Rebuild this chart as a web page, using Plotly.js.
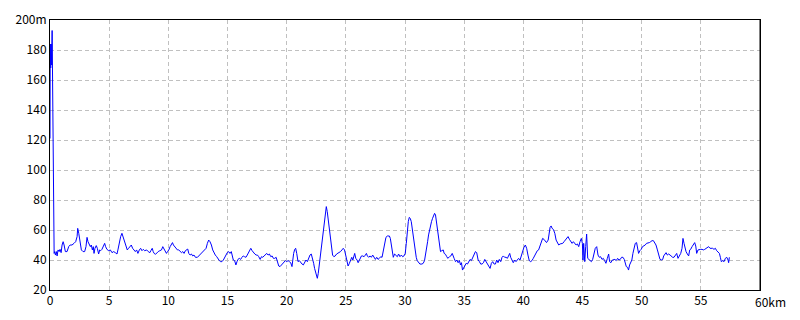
<!DOCTYPE html>
<html>
<head>
<meta charset="utf-8">
<script src="https://cdn.plot.ly/plotly-3.0.1.min.js"></script>
<style>html,body{margin:0;padding:0;background:#fff;}#chart{width:800px;height:320px;}</style>
</head>
<body>
<div id="chart"></div>
<script>
// Distance along the route (km)
const distKm = [
  0, 0.02, 0.06, 0.10, 0.14, 0.18, 0.24, 0.27, 0.29,
  0.35, 0.40, 0.46, 0.54, 0.60, 0.68, 0.77, 0.85, 0.94, 1.02, 1.11, 1.19, 1.30, 1.44, 1.58, 1.70, 1.86, 2.03, 2.17, 2.29, 2.34, 2.43, 2.54, 2.65, 2.79, 2.93,
  3.04, 3.13, 3.21, 3.30, 3.41, 3.49, 3.58, 3.66, 3.72, 3.80, 3.91, 4.00, 4.11, 4.20, 4.28, 4.39, 4.50, 4.62, 4.70, 4.81, 4.96, 5.10, 5.24, 5.38, 5.52, 5.66,
  5.74, 5.85, 5.97, 6.08, 6.19, 6.31, 6.42, 6.53, 6.64, 6.76, 6.87, 6.98, 7.09, 7.21, 7.32, 7.43, 7.55, 7.66, 7.77, 7.88, 8.00, 8.17,
  8.30, 8.44, 8.52, 8.64, 8.72, 8.80, 8.92, 9.03, 9.14, 9.28, 9.42, 9.53, 9.65, 9.76, 9.84, 9.93, 10.04, 10.15, 10.26, 10.35, 10.43, 10.55, 10.66, 10.77, 10.88, 10.99,
  11.11, 11.22, 11.33, 11.44, 11.56, 11.64, 11.73, 11.84, 11.95, 12.06, 12.17, 12.29, 12.46, 12.57, 12.68, 12.79, 12.93, 13.07, 13.19, 13.30, 13.41, 13.52, 13.64, 13.75, 13.86, 13.97,
  14.09, 14.20, 14.31, 14.42, 14.53, 14.65, 14.76, 14.87, 14.98, 15.10, 15.21, 15.32, 15.41, 15.49, 15.60, 15.71, 15.80, 15.88, 16.00, 16.11, 16.22, 16.33, 16.44, 16.56, 16.67,
  16.75, 16.86, 16.97, 17.08, 17.19, 17.31, 17.42, 17.53, 17.64, 17.76, 17.87, 17.98, 18.09, 18.21, 18.32, 18.43, 18.54, 18.66, 18.77, 18.88, 18.99, 19.11, 19.22, 19.33, 19.44, 19.55,
  19.67, 19.78, 19.89, 20.00, 20.12, 20.23, 20.34, 20.45, 20.51, 20.59, 20.68, 20.76, 20.85, 20.96, 21.07, 21.18, 21.30, 21.41, 21.52, 21.63, 21.75, 21.86, 21.97, 22.08, 22.19,
  22.28, 22.36, 22.45, 22.53, 22.59, 22.67, 22.76, 22.84, 22.92, 23.01, 23.09, 23.18, 23.26, 23.35, 23.43, 23.51, 23.60, 23.68, 23.77, 23.88, 23.99, 24.10, 24.22, 24.33, 24.44,
  24.55, 24.67, 24.78, 24.89, 25.00, 25.12,
  25.19, 25.30, 25.42, 25.50, 25.59, 25.67, 25.75, 25.84, 25.95, 26.04, 26.12, 26.20, 26.32, 26.43, 26.54, 26.65, 26.74, 26.82, 26.93, 27.05, 27.16, 27.27, 27.38, 27.50, 27.61,
  27.72, 27.83, 27.95, 28.06, 28.14, 28.23, 28.31, 28.39, 28.51, 28.68, 28.76, 28.84, 28.93, 29.01, 29.12, 29.24, 29.35, 29.46, 29.57, 29.69, 29.80, 29.91, 30.02, 30.11, 30.19,
  30.28, 30.36, 30.44, 30.53, 30.61, 30.70, 30.78, 30.87, 30.95, 31.03, 31.15, 31.26, 31.43, 31.54, 31.65, 31.74, 31.82, 31.91, 31.99, 32.07, 32.16, 32.24, 32.33, 32.41, 32.50,
  32.58, 32.66, 32.75, 32.83, 32.92, 33.00, 33.11, 33.23, 33.31, 33.42, 33.53, 33.62,
  33.76, 33.87, 33.99, 34.07, 34.15, 34.27, 34.38, 34.49, 34.60, 34.69, 34.77, 34.86, 34.94, 35.05, 35.17, 35.28, 35.39, 35.50, 35.61, 35.73, 35.84, 35.95, 36.06, 36.18, 36.29,
  36.40, 36.51, 36.63, 36.74, 36.85, 36.96, 37.08, 37.19, 37.30, 37.41, 37.53, 37.64, 37.75, 37.86, 37.97, 38.09, 38.20, 38.31, 38.42, 38.54, 38.65, 38.76, 38.85, 38.93, 39.04,
  39.15, 39.27, 39.38, 39.49, 39.60, 39.72, 39.83, 39.94, 40.05, 40.17, 40.28, 40.39, 40.50, 40.62, 40.73, 40.84, 40.95, 41.06, 41.18, 41.29, 41.40, 41.51, 41.63, 41.74, 41.85, 41.96,
  42.10, 42.18, 42.26, 42.35, 42.43, 42.54, 42.66, 42.77, 42.88, 42.99, 43.11, 43.22, 43.33, 43.44, 43.56, 43.67, 43.78, 43.89, 44.01, 44.12, 44.23, 44.34, 44.46, 44.57, 44.68,
  44.79, 44.90, 44.99, 45.04, 45.10, 45.19, 45.27, 45.35, 45.44, 45.52, 45.63, 45.75, 45.86, 45.97, 46.08, 46.20, 46.31, 46.42, 46.53, 46.65, 46.76, 46.87, 46.98, 47.10, 47.21,
  47.29, 47.40, 47.52, 47.63, 47.74, 47.85, 47.97, 48.08, 48.19, 48.30, 48.42, 48.53, 48.61, 48.70, 48.81, 48.89, 48.98, 49.06, 49.17, 49.26, 49.34, 49.46, 49.57, 49.65, 49.74,
  49.85, 49.96, 50.07, 50.19, 50.30, 50.41,
  50.54, 50.65, 50.76, 50.88, 50.99, 51.10, 51.21, 51.33, 51.44, 51.55, 51.66, 51.78, 51.86, 51.95, 52.06, 52.17, 52.28, 52.40, 52.51, 52.62, 52.73, 52.85, 52.96, 53.07, 53.18,
  53.30, 53.41, 53.49, 53.58, 53.66, 53.75, 53.86, 53.97, 54.06, 54.14, 54.26, 54.37, 54.48, 54.57, 54.65, 54.76, 54.88, 54.99, 55.10, 55.21, 55.33, 55.44, 55.55, 55.66, 55.78,
  55.89, 56.00, 56.11, 56.23, 56.34, 56.45, 56.57, 56.65, 56.73, 56.85, 56.96, 57.07, 57.19, 57.30, 57.35, 57.41
];
// Elevation (m)
const elevM = [
  121, 184, 168, 184, 170, 193, 125, 124, 50,
  44.4, 45.6, 43.3, 45.6, 42.7, 46.7, 45.6, 47.1, 44.9, 50, 52.2, 50, 45.6, 45.6, 48.9, 50, 50, 51.1, 52.2, 55.6, 61.1, 57.8, 52.2, 46.7, 45.6, 45.6,
  48.9, 55.1, 52.2, 51.1, 48.9, 50, 46.7, 48.9, 44.4, 47.8, 49.6, 47.8, 44, 46.7, 46.2, 47.1, 48.9, 51.1, 48.9, 47.1, 46.2, 46.7, 44.9, 45.6, 44.9, 44,
  46.7, 52.2, 55.6, 57.8, 55.1, 51.1, 48.9, 46.7, 47.8, 48.9, 50, 47.8, 46.7, 45.6, 46.7, 44.4, 46.7, 47.8, 46.2, 47.1, 46.2, 46.7,
  45.6, 44.9, 46.2, 47.8, 45.6, 44.4, 43.8, 44.9, 45.6, 46.2, 46.7, 48.9, 47.1, 45.6, 44.4, 45.6, 46.7, 48.9, 50, 51.6, 50, 48.9, 47.8, 46.7, 46.7, 45.6,
  44.9, 45.6, 44.4, 46.2, 46.7, 47.3, 44.4, 43.3, 44, 42.7, 43.3, 41.8, 41.8, 42.7, 44, 44.4, 45.6, 46.7, 47.8, 51.1, 53.3, 52.2, 50, 46.7, 44.4, 43.3,
  42.2, 40.4, 39.6, 38.9, 38.9, 40, 41.8, 43.3, 44.9, 45.6, 44.4, 45.6, 41.8, 40, 39.6, 36.7, 38.9, 40.4, 41.1, 40.4, 41.8, 42.7, 42.2, 41.8, 43.3,
  44.4, 46.2, 47.8, 46.2, 44.9, 44, 43.3, 43.3, 42.2, 40.4, 42.2, 41.8, 42.7, 43.3, 44.4, 43.3, 44, 42.2, 42.7, 41.1, 41.1, 41.8, 38.9, 36, 35.6, 36.7,
  37.8, 38.9, 39.6, 38.9, 39.6, 38.9, 38.2, 35.6, 41.1, 44.4, 47.1, 47.8, 44.4, 38.9, 39.6, 38.2, 37.3, 36.7, 38.2, 40, 38.9, 41.1, 43.3, 44, 41.1,
  37.8, 34.4, 31.1, 27.8, 27.8, 31.1, 36.7, 42.2, 47.8, 54.4, 60, 65.6, 71.1, 75.6, 72.2, 66.7, 60, 53.3, 47.8, 43.3, 42.2, 42.7, 44, 44.4, 44.9,
  45.6, 46.7, 47.8, 46.7, 43.3, 38.9,
  36, 37.8, 40, 41.8, 40, 42.7, 44.4, 41.1, 40, 38.2, 39.6, 41.8, 42.7, 42.7, 42.2, 43.3, 44.4, 42.7, 41.8, 42.7, 41.8, 43.3, 42.2, 40.4, 41.8,
  40.4, 41.1, 42.2, 41.8, 44.9, 48.9, 52.2, 55.1, 56, 56, 54.4, 50, 45.6, 41.8, 44, 42.7, 42.2, 44, 42.2, 43.3, 42.2, 42.7, 44.4, 51.1, 58.9,
  65.6, 68.4, 67.8, 65.6, 61.1, 55.6, 50, 45.6, 41.8, 39.6, 38.2, 37.3, 37.3, 37.8, 39.6, 43.3, 47.8, 52.2, 56.7, 60, 63.3, 65.6, 67.8, 69.3, 71.1,
  70, 65.6, 60, 54.4, 48.9, 45.6, 46.2, 46.7, 44.4, 43.8, 42.2, 41.1,
  42.2, 42.7, 44.4, 41.8, 41.1, 38.9, 40, 38.2, 39.6, 36.7, 38.2, 33.3, 34.4, 36.7, 37.8, 37.3, 38.9, 40.4, 39.6, 42.2, 44.4, 45.6, 44.9, 40, 38.9,
  37.3, 37.3, 38.2, 40.4, 38.9, 37.3, 36, 34.4, 37.8, 38.9, 37.3, 37.3, 40, 38.2, 40.4, 38.9, 41.8, 42.7, 41.8, 41.8, 41.1, 42.7, 44.4, 41.8, 40,
  38.2, 40, 38.9, 40, 41.1, 40, 43.3, 45.6, 48.4, 50, 47.8, 43.3, 39.6, 38.9, 39.6, 41.1, 42.7, 44, 46.2, 46.7, 48.9, 51.1, 54.4, 53.8, 52.2, 51.6,
  53.3, 58.9, 61.8, 62.7, 61.1, 60.4, 57.8, 53.3, 51.1, 50, 50.7, 50.7, 51.1, 52.2, 53.3, 54.4, 55.6, 53.8, 52.2, 51.1, 52.2, 50.7, 50, 50.7, 48.9,
  52.2, 54.4, 51.1, 40, 51.1, 38.9, 48.9, 57.3, 41.1, 40.4, 40, 38.9, 40.4, 43.3, 47.8, 48.9, 43.3, 41.8, 42.2, 40.4, 41.1, 39.6, 37.8, 41.1, 44,
  38.9, 38.2, 40, 40, 40.4, 39.6, 41.1, 40, 40.4, 41.8, 41.8, 40.4, 38.2, 35.6, 35.1, 33.3, 36.7, 37.8, 40, 44.4, 47.8, 51.1, 51.6, 47.8, 44.4,
  46.2, 47.1, 48.9, 49.3, 50, 51.1,
  51.1, 51.6, 52.2, 52.9, 52.9, 51.1, 50, 46.7, 43.3, 40.4, 40, 40.4, 42.7, 44, 44.9, 43.3, 44, 43.3, 42.2, 41.8, 41.8, 43.3, 44.4, 41.1, 42.7,
  44.4, 47.8, 54.4, 51.1, 47.8, 45.6, 44, 42.7, 46.7, 47.1, 48.9, 50, 51.6, 49.3, 44.4, 46.7, 47.1, 47.1, 47.1, 46.7, 47.1, 47.8, 48.4, 48.9, 47.8,
  47.8, 47.8, 47.1, 47.8, 46.2, 45.6, 44.4, 41.8, 38.9, 39.6, 38.9, 41.1, 41.8, 40, 38.2, 41.8
];
const xTickVals = [0, 5, 10, 15, 20, 25, 30, 35, 40, 45, 50, 55];
const xTickText = ["0", "5", "10", "15", "20", "25", "30", "35", "40", "45", "50", "55"];
const xEndLabel = "60km";
const yTickVals = [20, 40, 60, 80, 100, 120, 140, 160, 180, 200];
const yTickText = ["20", "40", "60", "80", "100", "120", "140", "160", "180", "200m"];

const FONT = {family: "'Noto Sans CJK JP', 'DejaVu Sans', sans-serif", size: 12, color: "#000"};
const gridStyle = {showgrid: true, gridcolor: "#c0c0c0", gridwidth: 1, griddash: "4px,3px"};

Plotly.newPlot("chart", [{
  x: distKm, y: elevM, type: "scatter", mode: "lines",
  line: {color: "#0000ff", width: 1}, hoverinfo: "skip"
}], {
  width: 800, height: 320,
  margin: {l: 50, r: 40, t: 20, b: 30, pad: 0},
  paper_bgcolor: "#fff", plot_bgcolor: "#fff",
  font: FONT, showlegend: false,
  xaxis: Object.assign({
    range: [0, 60], tickmode: "array", tickvals: xTickVals, ticktext: xTickText,
    ticks: "", showline: true, linecolor: "#000", linewidth: 1, mirror: true,
    zeroline: false, tickfont: FONT, ticklabelstandoff: 0
  }, gridStyle),
  yaxis: Object.assign({
    range: [20, 200], tickmode: "array", tickvals: yTickVals, ticktext: yTickText,
    ticks: "", showline: true, linecolor: "#000", linewidth: 1, mirror: true,
    zeroline: false, tickfont: FONT, ticklabelstandoff: 0
  }, gridStyle),
  shapes: [{type: "line", xref: "x", yref: "paper", x0: 60, x1: 60, y0: 0, y1: 1, line: {color: "#000", width: 1}}],
  annotations: [{
    x: 60, y: 0, xref: "x", yref: "paper", text: xEndLabel, showarrow: false,
    xanchor: "left", yanchor: "top", xshift: -7, yshift: -1, font: FONT
  }]
}, {staticPlot: true, displayModeBar: false});
</script>
</body>
</html>
